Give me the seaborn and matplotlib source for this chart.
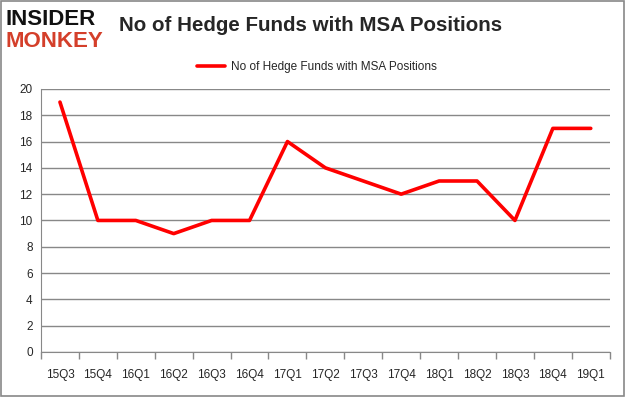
import matplotlib
matplotlib.use("Agg")
import matplotlib.pyplot as plt
import seaborn as sns
import pandas as pd
from matplotlib.patches import Rectangle

# Data
quarters = ["15Q3", "15Q4", "16Q1", "16Q2", "16Q3", "16Q4", "17Q1", "17Q2",
            "17Q3", "17Q4", "18Q1", "18Q2", "18Q3", "18Q4", "19Q1"]
funds = [19, 10, 10, 9, 10, 10, 16, 14, 13, 12, 13, 13, 10, 17, 17]
y_ticks = [0, 2, 4, 6, 8, 10, 12, 14, 16, 18, 20]

df = pd.DataFrame({"quarter": quarters, "funds": funds})
df["pos"] = range(len(df))

sns.set_style("white")
plt.rcParams["font.family"] = ["Liberation Sans", "DejaVu Sans"]

fig = plt.figure(figsize=(6.26, 3.97), dpi=100)
ax = fig.add_axes([0.0655, 0.1134, 0.9085, 0.6626])

sns.lineplot(data=df, x="pos", y="funds", color="#ff0000", linewidth=2.6,
             ax=ax, label="No of Hedge Funds with MSA Positions")

ax.set_xlim(-0.5, len(quarters) - 0.5)
ax.set_ylim(0, 20)
ax.set_yticks(y_ticks)
ax.set_xticks([i - 0.5 for i in range(len(quarters) + 1)])
ax.set_xticklabels([])
ax.set_xticks(range(len(quarters)), minor=True)
ax.set_xticklabels(quarters, minor=True)
ax.tick_params(axis="x", which="major", length=5, color="#888888", width=1, direction="out", bottom=True)
ax.tick_params(axis="x", which="minor", length=0, pad=12, labelsize=8.5)
ax.tick_params(axis="y", length=0, labelsize=8.5, pad=6)
ax.grid(axis="y", color="#888888", linewidth=1)
ax.set_axisbelow(True)
for side in ["top", "right"]:
    ax.spines[side].set_visible(False)
ax.spines["left"].set_color("#888888")
ax.spines["bottom"].set_color("#888888")
ax.set_xlabel("")
ax.set_ylabel("")

ax.legend(loc="lower center", bbox_to_anchor=(0.485, 1.02), frameon=False,
          fontsize=8.5, handlelength=2.4, handletextpad=0.5)

fig.text(0.19, 0.935, "No of Hedge Funds with MSA Positions", fontsize=14.8,
         fontweight="bold", va="center", ha="left")
fig.text(0.008, 0.952, "INSIDER", fontsize=16, fontweight="heavy",
         color="#111111", va="center", ha="left")
fig.text(0.008, 0.895, "MONKEY", fontsize=16, fontweight="heavy",
         color="#d43f2a", va="center", ha="left")

fig.patches.append(Rectangle((0.002, 0.003), 0.995, 0.994, transform=fig.transFigure,
                             fill=False, edgecolor="#888888", linewidth=1.2))

fig.savefig("out.png", dpi=100)
